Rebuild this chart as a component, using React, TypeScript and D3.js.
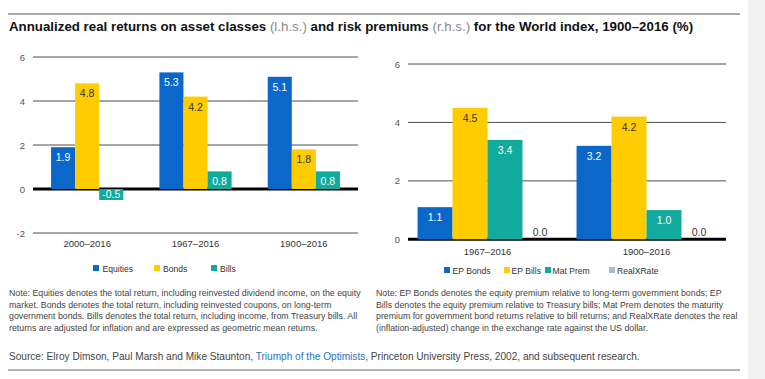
import React from "react";
import * as d3 from "d3";

const leftCategories = ["2000–2016", "1967–2016", "1900–2016"];
const equities = [1.9, 5.3, 5.1];
const bonds = [4.8, 4.2, 1.8];
const bills = [-0.5, 0.8, 0.8];
const leftTicks = [-2, 0, 2, 4, 6];
const leftSeriesNames = ["Equities", "Bonds", "Bills"];

const rightCategories = ["1967–2016", "1900–2016"];
const epBonds = [1.1, 3.2];
const epBills = [4.5, 4.2];
const matPrem = [3.4, 1.0];
const realXRate = [0.0, 0.0];
const rightTicks = [0, 2, 4, 6];
const rightSeriesNames = ["EP Bonds", "EP Bills", "Mat Prem", "RealXRate"];

const titleParts = [
  "Annualized real returns on asset classes ",
  "(l.h.s.)",
  " and risk premiums ",
  "(r.h.s.)",
  " for the World index, 1900–2016 (%)",
];

const noteLeft = [
  "Note: Equities denotes the total return, including reinvested dividend income, on the equity",
  "market. Bonds denotes the total return, including reinvested coupons, on long-term",
  "government bonds. Bills denotes the total return, including income, from Treasury bills. All",
  "returns are adjusted for inflation and are expressed as geometric mean returns.",
];
const noteRight = [
  "Note: EP Bonds denotes the equity premium relative to long-term government bonds; EP",
  "Bills denotes the equity premium relative to Treasury bills; Mat Prem denotes the maturity",
  "premium for government bond returns relative to bill returns; and RealXRate denotes the real",
  "(inflation-adjusted) change in the exchange rate against the US dollar.",
];

const BLUE = "#0b67c9";
const YELLOW = "#ffcc00";
const TEAL = "#12aa9c";
const LIGHT = "#a9bcd6";
const FONT = "'Liberation Sans', Arial, Helvetica, sans-serif";

type Panel = {
  cats: string[];
  series: number[][];
  names: string[];
  colors: string[];
  labelColors: string[];
  ticks: number[];
  x0: number;
  x1: number;
  yDomain: [number, number];
  yRange: [number, number];
  padInner: number;
  padOuter: number;
  tickX: number;
  catY: number;
  legendY: number;
  legendX: number[];
  legendTextX: number[];
};

function ChartPanel({ p }: { p: Panel }) {
  const x = d3
    .scaleBand<string>()
    .domain(p.cats)
    .range([p.x0, p.x1])
    .paddingInner(p.padInner)
    .paddingOuter(p.padOuter);
  const xs = d3
    .scaleBand<number>()
    .domain(d3.range(p.series.length))
    .range([0, x.bandwidth()]);
  const y = d3.scaleLinear().domain(p.yDomain).range(p.yRange);
  return (
    <g>
      {p.ticks.map((t) => (
        <g key={t}>
          <line
            x1={p.x0}
            x2={p.x1}
            y1={y(t)}
            y2={y(t)}
            stroke={t === 0 ? "#000" : "#3a3a3a"}
            strokeWidth={t === 0 ? 3 : 0.9}
          />
          <text
            x={p.tickX}
            y={y(t) + 3.5}
            textAnchor="end"
            fontSize={9.5}
            fill="#555"
          >
            {t}
          </text>
        </g>
      ))}
      {p.cats.map((c, ci) =>
        p.series.map((s, si) => {
          const v = s[ci];
          const bx = (x(c) as number) + (xs(si) as number);
          const bw = xs.bandwidth();
          const top = y(Math.max(0, v));
          const h = Math.abs(y(v) - y(0));
          let ly: number;
          let lc = p.labelColors[si];
          if (v === 0) {
            ly = y(0) - 3.5;
            lc = "#333";
          } else if (v < 0) {
            ly = y(v) - 2;
          } else {
            ly = top + 14;
          }
          return (
            <g key={c + si}>
              {h > 0 && (
                <rect x={bx} y={top} width={bw} height={h} fill={p.colors[si]} />
              )}
              <text
                x={bx + bw / 2}
                y={ly}
                textAnchor="middle"
                fontSize={10.5}
                fill={lc}
              >
                {v.toFixed(1)}
              </text>
            </g>
          );
        })
      )}
      {p.cats.map((c) => (
        <text
          key={c}
          x={(x(c) as number) + x.bandwidth() / 2}
          y={p.catY}
          textAnchor="middle"
          fontSize={9.5}
          fill="#333"
        >
          {c}
        </text>
      ))}
      {p.names.map((n, i) => (
        <g key={n}>
          <rect
            x={p.legendX[i]}
            y={p.legendY - 3.5}
            width={6}
            height={6}
            fill={p.colors[i]}
          />
          <text x={p.legendTextX[i]} y={p.legendY + 3.2} fontSize={8.6} fill="#333">
            {n}
          </text>
        </g>
      ))}
    </g>
  );
}

export default function App() {
  const left: Panel = {
    cats: leftCategories,
    series: [equities, bonds, bills],
    names: leftSeriesNames,
    colors: [BLUE, YELLOW, TEAL],
    labelColors: ["#fff", "#333", "#fff"],
    ticks: leftTicks,
    x0: 33,
    x1: 358,
    yDomain: [-2, 6],
    yRange: [233, 57],
    padInner: 1 / 3,
    padOuter: 1 / 6,
    tickX: 25,
    catY: 246.5,
    legendY: 268.5,
    legendX: [93, 154, 211],
    legendTextX: [102.5, 163, 220],
  };
  const right: Panel = {
    cats: rightCategories,
    series: [epBonds, epBills, matPrem, realXRate],
    names: rightSeriesNames,
    colors: [BLUE, YELLOW, TEAL, LIGHT],
    labelColors: ["#fff", "#333", "#fff", "#333"],
    ticks: rightTicks,
    x0: 408,
    x1: 726,
    yDomain: [0, 6],
    yRange: [239.3, 64],
    padInner: 0.12,
    padOuter: 0.06,
    tickX: 400,
    catY: 254.5,
    legendY: 270.5,
    legendX: [444, 504, 545, 609],
    legendTextX: [452.5, 511.5, 552.5, 617],
  };
  return (
    <svg
      width={765}
      height={379}
      style={{ position: "absolute", left: 0, top: 0, fontFamily: FONT }}
    >
      <rect x={0} y={0} width={765} height={379} fill="#fff" />
      <rect x={748} y={0} width={17} height={379} fill="#f2f2f2" />
      <line x1={8} x2={740} y1={14} y2={14} stroke="#555" strokeWidth={1} />
      <text x={9} y={31} fontSize={13.3} fill="#111">
        {titleParts.map((t, i) => (
          <tspan
            key={i}
            fontWeight={i % 2 === 0 ? "bold" : "normal"}
            fill={i % 2 === 0 ? "#111" : "#888"}
          >
            {t}
          </tspan>
        ))}
      </text>
      <ChartPanel p={left} />
      <ChartPanel p={right} />
      {noteLeft.map((l, i) => (
        <text key={"l" + i} x={9} y={296 + i * 11.7} fontSize={8.8} fill="#444">
          {l}
        </text>
      ))}
      {noteRight.map((l, i) => (
        <text key={"r" + i} x={376} y={296 + i * 11.7} fontSize={8.8} fill="#444">
          {l}
        </text>
      ))}
      <text x={9} y={360} fontSize={10.1} fill="#444">
        Source: Elroy Dimson, Paul Marsh and Mike Staunton,{" "}
        <tspan fill="#2a73c0">Triumph of the Optimists</tspan>, Princeton University
        Press, 2002, and subsequent research.
      </text>
      <line x1={8} x2={740} y1={370} y2={370} stroke="#666" strokeWidth={1} />
    </svg>
  );
}
